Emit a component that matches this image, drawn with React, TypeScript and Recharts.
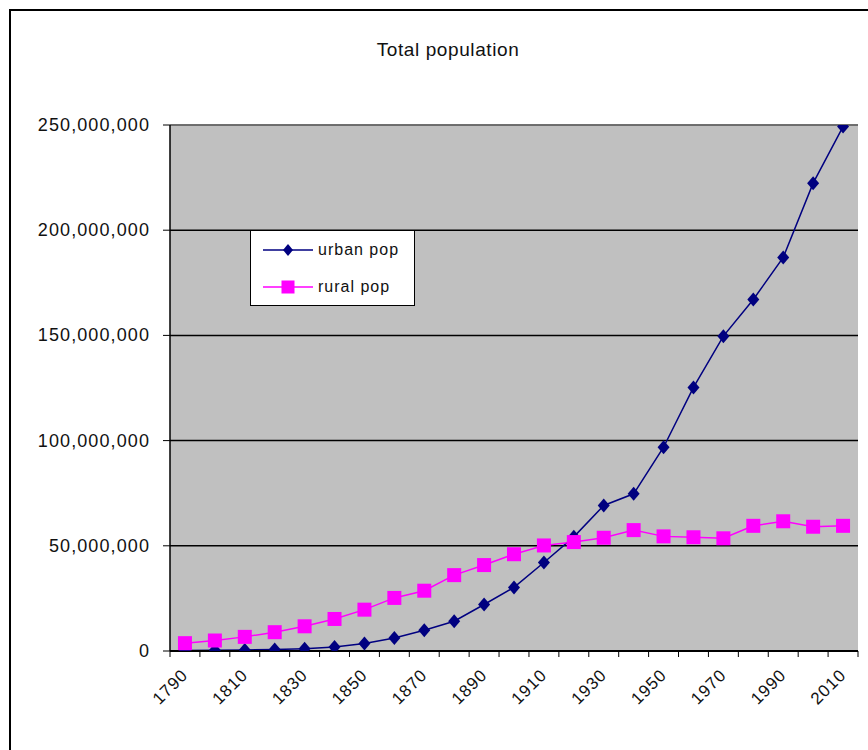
import { LineChart, Line, XAxis, YAxis, CartesianGrid, Legend, ReferenceLine } from 'recharts';

// US census, urban vs rural population
const years = [
    '1790', '1800', '1810', '1820', '1830', '1840', '1850', '1860', '1870', '1880', '1890', '1900',
    '1910', '1920', '1930', '1940', '1950', '1960', '1970', '1980', '1990', '2000', '2010'
];
const urbanPop = [
    201655, 322371, 525459, 693255, 1127247, 1845055, 3543716, 6216518, 9902361, 14129735,
    22106265, 30214832, 42064001, 54253282, 69160599, 74705338, 96846817, 125268750,
    149646617, 167050992, 187053487, 222360539, 249253271
];
const ruralPop = [
    3727559, 4986112, 6714422, 8945198, 11738773, 15224398, 19648160, 25226803, 28656010,
    36059474, 40841449, 45997336, 50164495, 51768255, 53820223, 57459231, 54478981, 54054425,
    53565309, 59494813, 61656386, 59061367, 59492276
];
const yTicks = [0, 50000000, 100000000, 150000000, 200000000, 250000000];
const seriesOrder = ['urban', 'rural'];

const FONT = '"Liberation Sans", Arial, sans-serif';
const CHART_W = 868;
const CHART_H = 750;
const MARGIN = { top: 125, right: 10, bottom: 39, left: 0 };
const Y_AXIS_W = 170;
const PLOT_W = CHART_W - MARGIN.left - MARGIN.right - Y_AXIS_W;

const data = years.map((year, i) => ({ year, urban: urbanPop[i], rural: ruralPop[i] }));

const Diamond = ({ cx, cy, fill }: any) => {
    if (cx == null || cy == null) return null;
    return <polygon points={`${cx},${cy - 7} ${cx + 6},${cy} ${cx},${cy + 7} ${cx - 6},${cy}`} fill={fill} />;
};

const Square = ({ cx, cy, fill }: any) => {
    if (cx == null || cy == null) return null;
    return <rect x={cx - 7} y={cy - 7} width={14} height={14} fill={fill} />;
};

// Excel style: tick marks between categories, every other label rotated
const XTick = ({ x, y, payload, index }: any) => {
    const bw = PLOT_W / years.length;
    const last = index === years.length - 1;
    return (
        <g>
            <line x1={x - bw / 2} y1={y} x2={x - bw / 2} y2={y + 6} stroke="#000" />
            {last && <line x1={x + bw / 2} y1={y} x2={x + bw / 2} y2={y + 6} stroke="#000" />}
            {index % 2 === 0 && (
                <text
                    x={x + 4}
                    y={y + 25}
                    transform={`rotate(-45, ${x + 4}, ${y + 25})`}
                    textAnchor="end"
                    fontSize={17}
                    fontFamily={FONT}
                    fill="#111"
                    style={{ letterSpacing: '1px' }}
                >
                    {payload.value}
                </text>
            )}
        </g>
    );
};

const YTick = ({ x, y, payload }: any) => (
    <text
        x={x}
        y={y}
        dy={6}
        textAnchor="end"
        fontSize={18}
        fontFamily={FONT}
        fill="#111"
        style={{ letterSpacing: '1.1px' }}
    >
        {Number(payload.value).toLocaleString('en-US')}
    </text>
);

const LegendBox = ({ payload }: any) => {
    const items = [...(payload || [])].sort(
        (a: any, b: any) => seriesOrder.indexOf(a.dataKey) - seriesOrder.indexOf(b.dataKey)
    );
    return (
        <div style={{
            width: 165,
            height: 76,
            boxSizing: 'border-box',
            background: '#fff',
            border: '1.5px solid #000',
            fontFamily: FONT,
            fontSize: 16,
            letterSpacing: '1px',
            color: '#111'
        }}>
            {items.map((p: any) => (
                <div key={p.value} style={{ display: 'flex', alignItems: 'center', height: 37, paddingLeft: 12 }}>
                    <svg width={50} height={16}>
                        <line x1={0} y1={8} x2={50} y2={8} stroke={p.color} strokeWidth={1.5} />
                        {p.dataKey === 'urban'
                            ? <polygon points="25,2 30,8 25,14 20,8" fill={p.color} />
                            : <rect x={18.5} y={1.5} width={13} height={13} fill={p.color} />}
                    </svg>
                    <span style={{ marginLeft: 5 }}>{p.value}</span>
                </div>
            ))}
        </div>
    );
};

export default function App() {
    return (
        <div style={{ position: 'absolute', left: 0, top: 0, width: CHART_W, height: CHART_H, overflow: 'hidden', background: '#fff' }}>
            {/* outer frame */}
            <div style={{
                position: 'absolute', left: 9, top: 9, width: 880, height: 780,
                border: '2px solid #000', boxSizing: 'border-box'
            }} />
            <div style={{
                position: 'absolute', top: 39, left: 0, width: 896, textAlign: 'center',
                fontFamily: FONT, fontSize: 19, letterSpacing: '0.6px', color: '#111'
            }}>
                Total population
            </div>
            <div style={{ position: 'absolute', left: 0, top: 0 }}>
                <LineChart width={CHART_W} height={CHART_H} data={data} margin={MARGIN}>
                    <CartesianGrid vertical={false} stroke="#000" strokeWidth={1.5} fill="#C0C0C0" fillOpacity={1} />
                    <ReferenceLine y={250000000} stroke="#808080" strokeWidth={1.5} />
                    <XAxis
                        dataKey="year"
                        scale="band"
                        interval={0}
                        tick={<XTick />}
                        tickLine={false}
                        tickSize={0}
                        tickMargin={0}
                        height={60}
                        axisLine={{ stroke: '#000', strokeWidth: 2 }}
                    />
                    <YAxis
                        width={Y_AXIS_W}
                        domain={[0, 250000000]}
                        ticks={yTicks}
                        tick={<YTick />}
                        tickLine={{ stroke: '#000' }}
                        tickSize={7}
                        tickMargin={13}
                        axisLine={{ stroke: '#000', strokeWidth: 1.5 }}
                        allowDataOverflow
                    />
                    <YAxis
                        yAxisId="right"
                        orientation="right"
                        width={0}
                        tick={false}
                        tickLine={false}
                        axisLine={{ stroke: '#808080', strokeWidth: 1.5 }}
                    />
                    <Legend
                        content={<LegendBox />}
                        layout="horizontal"
                        verticalAlign="middle"
                        align="center"
                        wrapperStyle={{ left: 250, top: 230, width: 'auto' }}
                    />
                    <Line
                        type="linear"
                        dataKey="urban"
                        name="urban pop"
                        stroke="#000080"
                        strokeWidth={1.5}
                        dot={<Diamond fill="#000080" />}
                        isAnimationActive={false}
                    />
                    <Line
                        type="linear"
                        dataKey="rural"
                        name="rural pop"
                        stroke="#FF00FF"
                        strokeWidth={1.5}
                        dot={<Square fill="#FF00FF" />}
                        isAnimationActive={false}
                    />
                </LineChart>
            </div>
        </div>
    );
}
